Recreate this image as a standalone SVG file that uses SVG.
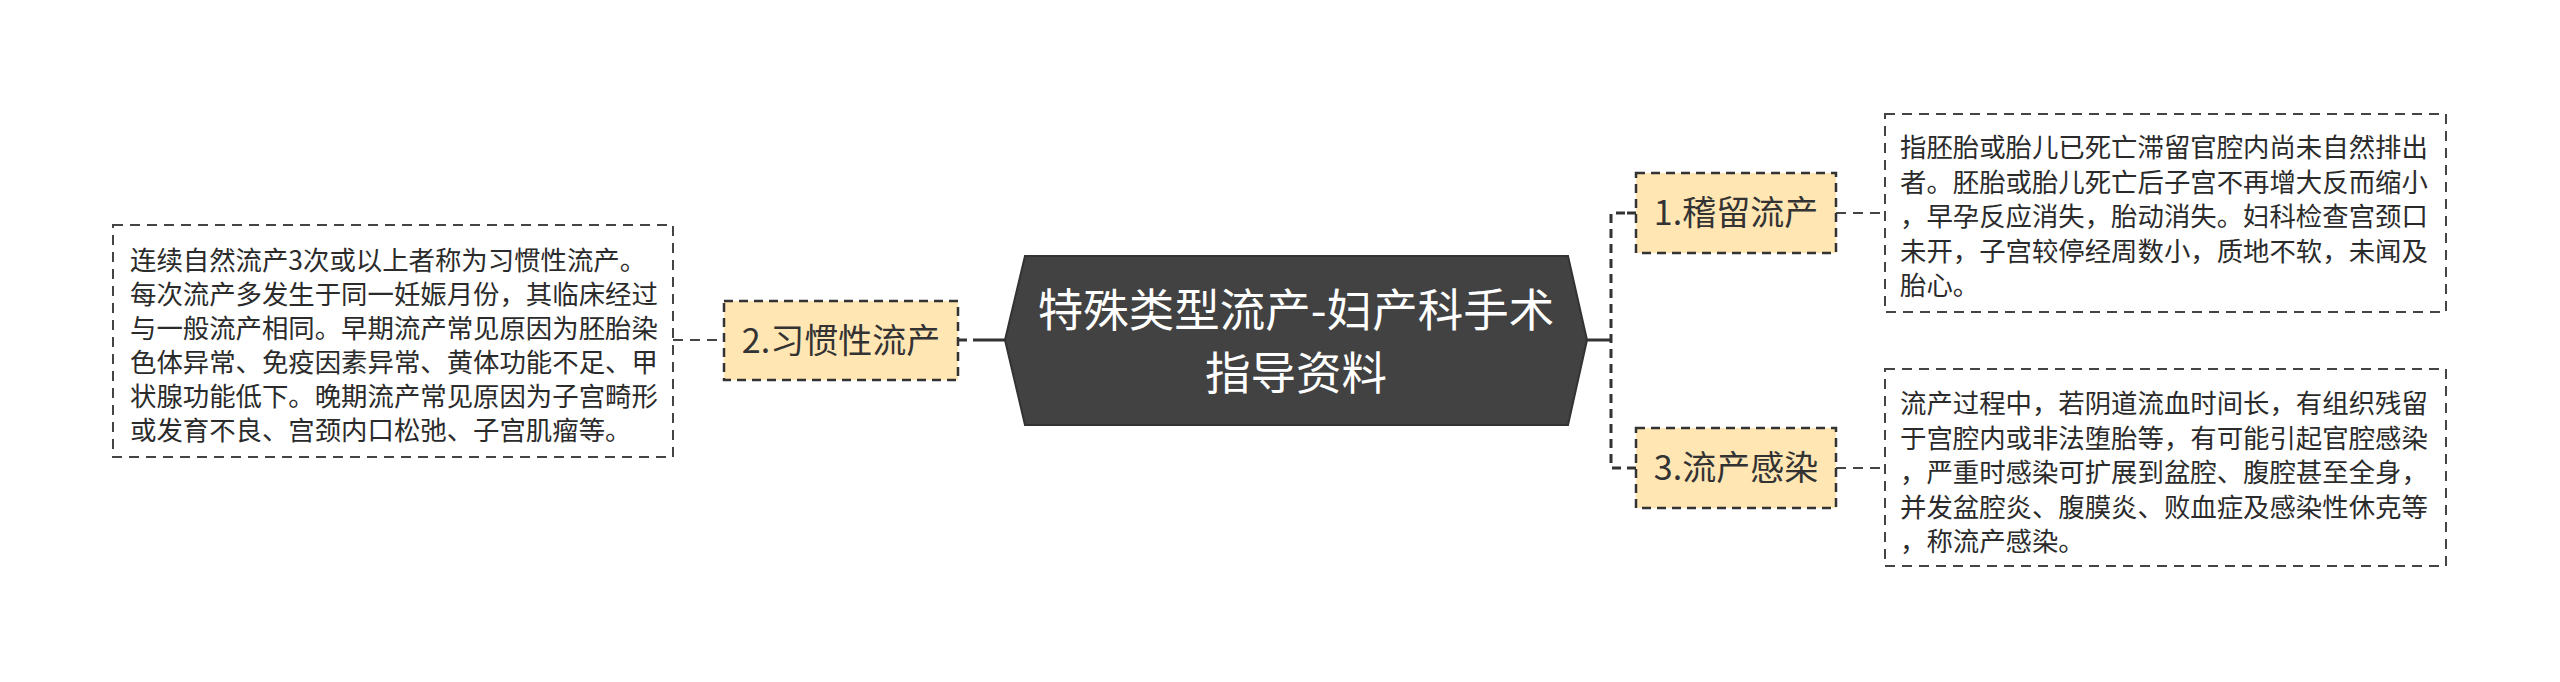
<svg xmlns="http://www.w3.org/2000/svg" width="2560" height="682" viewBox="0 0 2560 682">
<style>
.cjk{font-family:"Noto Sans CJK SC","Noto Sans",sans-serif}
.desc{fill:#fff;stroke:#444;stroke-width:2;stroke-dasharray:10 7}
.desctxt{font-size:26.4px;fill:#2b2b2b}
.topic{fill:#FFE6B3;stroke:#333;stroke-width:2.5;stroke-dasharray:9 6}
.topictxt{font-size:34px;fill:#333;text-anchor:middle}
.solid{stroke:#333;stroke-width:3;fill:none}
.dash{stroke:#333;stroke-width:3;fill:none;stroke-dasharray:9 6}
.thin{stroke:#444;stroke-width:2;fill:none;stroke-dasharray:10 7}
</style>
<rect width="2560" height="682" fill="#fff"/>
<g id="connectors">
<line class="solid" x1="973" y1="340" x2="1006" y2="340"/>
<line class="dash" x1="958" y1="340" x2="973" y2="340"/>
<line class="thin" x1="673" y1="340" x2="724" y2="340"/>
<line class="solid" x1="1587" y1="340" x2="1611" y2="340"/>
<path class="dash" d="M1625 213 H1611 V468 H1636"/>
<line class="dash" x1="1636" y1="213" x2="1625" y2="213"/>
<line class="thin" x1="1836" y1="213" x2="1885" y2="213"/>
<line class="thin" x1="1836" y1="468" x2="1885" y2="468"/>
</g>
<g id="central">
<polygon points="1005,340 1025,256 1568,256 1587,340 1568,425 1025,425" fill="#424242" stroke="#333" stroke-width="2"/>
<text class="cjk" x="1296" y="327" font-size="45.5" fill="#fff" text-anchor="middle">特殊类型流产-妇产科手术</text>
<text class="cjk" x="1296" y="390" font-size="45.5" fill="#fff" text-anchor="middle">指导资料</text>
</g>
<g id="topic2">
<rect class="topic" x="724" y="301" width="234" height="79"/>
<text class="cjk topictxt" x="841" y="353">2.习惯性流产</text>
</g>
<g id="desc2">
<rect class="desc" x="113" y="225" width="560" height="232"/>
<text class="cjk desctxt">
<tspan x="130" y="270">连续自然流产3次或以上者称为习惯性流产。</tspan>
<tspan x="130" y="304">每次流产多发生于同一妊娠月份，其临床经过</tspan>
<tspan x="130" y="338">与一般流产相同。早期流产常见原因为胚胎染</tspan>
<tspan x="130" y="372">色体异常、免疫因素异常、黄体功能不足、甲</tspan>
<tspan x="130" y="406">状腺功能低下。晚期流产常见原因为子宫畸形</tspan>
<tspan x="130" y="440">或发育不良、宫颈内口松弛、子宫肌瘤等。</tspan>
</text>
</g>
<g id="topic1">
<rect class="topic" x="1636" y="173" width="200" height="80"/>
<text class="cjk topictxt" x="1736" y="225">1.稽留流产</text>
</g>
<g id="desc1">
<rect class="desc" x="1885" y="114" width="561" height="198"/>
<text class="cjk desctxt">
<tspan x="1900" y="157">指胚胎或胎儿已死亡滞留官腔内尚未自然排出</tspan>
<tspan x="1900" y="191.5">者。胚胎或胎儿死亡后子宫不再增大反而缩小</tspan>
<tspan x="1900" y="226">，早孕反应消失，胎动消失。妇科检查宫颈口</tspan>
<tspan x="1900" y="260.5">未开，子宫较停经周数小，质地不软，未闻及</tspan>
<tspan x="1900" y="295">胎心。</tspan>
</text>
</g>
<g id="topic3">
<rect class="topic" x="1636" y="428" width="200" height="80"/>
<text class="cjk topictxt" x="1736" y="480">3.流产感染</text>
</g>
<g id="desc3">
<rect class="desc" x="1885" y="369" width="561" height="197"/>
<text class="cjk desctxt">
<tspan x="1900" y="413">流产过程中，若阴道流血时间长，有组织残留</tspan>
<tspan x="1900" y="447.5">于宫腔内或非法堕胎等，有可能引起官腔感染</tspan>
<tspan x="1900" y="482">，严重时感染可扩展到盆腔、腹腔甚至全身，</tspan>
<tspan x="1900" y="516.5">并发盆腔炎、腹膜炎、败血症及感染性休克等</tspan>
<tspan x="1900" y="551">，称流产感染。</tspan>
</text>
</g>
</svg>
